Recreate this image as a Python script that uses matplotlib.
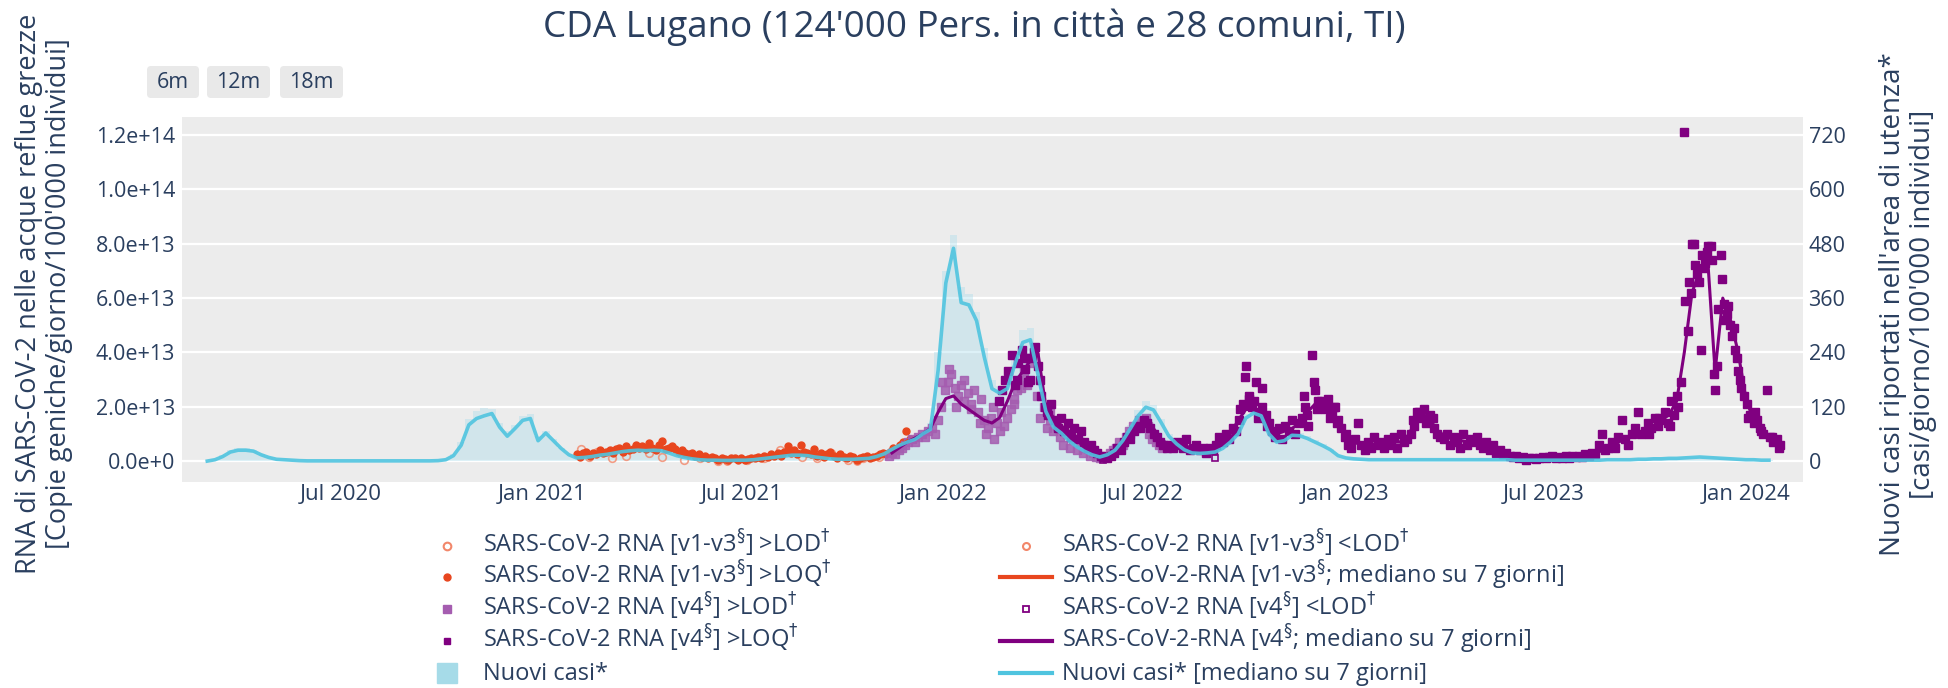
import matplotlib
matplotlib.use('Agg')
import matplotlib.pyplot as plt
from matplotlib.lines import Line2D
from matplotlib.patches import FancyBboxPatch
from matplotlib.transforms import IdentityTransform
import pandas as pd

# ---------------- data ----------------
title = "CDA Lugano (124'000 Pers. in città e 28 comuni, TI)"
left_label = "RNA di SARS-CoV-2 nelle acque reflue grezze\n[Copie geniche/giorno/100'000 individui]"
right_label = "Nuovi casi riportati nell'area di utenza*\n[casi/giorno/100'000 individui]"
buttons = ['6m', '12m', '18m']

xtick_dates = ['2020-07-01', '2021-01-01', '2021-07-01', '2022-01-01',
               '2022-07-01', '2023-01-01', '2023-07-01', '2024-01-01']
xtick_labels = ['Jul 2020', 'Jan 2021', 'Jul 2021', 'Jan 2022',
                'Jul 2022', 'Jan 2023', 'Jul 2023', 'Jan 2024']
ytick_left = [0, 2e13, 4e13, 6e13, 8e13, 1.0e14, 1.2e14]
ytick_left_labels = ['0.0e+0', '2.0e+13', '4.0e+13', '6.0e+13', '8.0e+13', '1.0e+14', '1.2e+14']
ytick_right = [0, 120, 240, 360, 480, 600, 720]

# weekly (Mondays from 2020-03-02): new cases per 100'000, 7-day median
cases_start = '2020-03-02'
cases_median = [
    # 2020
    0, 3, 10, 20, 24,  24, 22, 14, 8,  4, 3, 2, 1,  0.5, 0.5, 0.5, 0.5, 0.5,
    0.5, 0.5, 0.5, 0.5,  0.5, 0.5, 0.5, 0.5, 0.5,  0.5, 0.5, 0.5, 1,
    3, 12, 35, 80,  94, 100, 105, 75, 55,  72, 90, 94, 45,
    # 2021
    62, 45, 28, 14,  7, 8, 10, 13,  15, 18, 21, 23, 24,  23, 24, 23, 18,
    12, 8, 5, 3, 2,  2, 1.5, 1.5, 2,  2, 3, 5, 7,  9, 11, 13, 13, 12,
    9, 7, 5, 4,  4, 4, 5, 6,  10, 16, 26, 35, 42,  48, 60, 70, 200,
    # 2022
    393, 470, 350, 345, 310,  230, 160, 150, 160,  215, 262, 268, 190,
    110, 75, 62, 45,  32, 22, 14, 9, 14,  24, 45, 72, 100,  119, 113, 85, 55,
    38, 25, 18, 17, 18,  20, 28, 42, 60,  95, 106, 100, 60, 42,
    45, 57, 56, 50,  42, 34, 25, 12,
    # 2023
    7, 5, 4, 3, 3,  3, 3, 3, 3,  3, 3, 3, 3,  3, 3, 3, 3,  3, 3, 3, 3, 3,
    2, 2, 2, 2,  2, 2, 2, 2, 2,  2, 2, 2, 3,  3, 3, 3, 4,  4, 5, 5, 6, 6,
    7, 8, 9, 8,  7, 6, 5, 4,
    # 2024
    3, 3, 2, 2,
]
# weekly representation of the daily reported cases (bars)
cases_daily = [
    # 2020
    1, 5, 14, 24, 28,  28, 24, 16, 9,  5, 3, 2, 1,  1, 1, 1, 1, 1,
    1, 1, 1, 1,  1, 1, 1, 1, 1,  1, 1, 1, 2,
    5, 16, 42, 92,  110, 118, 115, 85, 66,  80, 100, 104, 56,
    # 2021
    66, 48, 30, 16,  9, 10, 12, 15,  18, 21, 24, 26, 26,  25, 26, 24, 20,
    14, 10, 6, 4, 3,  2, 2, 2, 3,  3, 4, 6, 8,  11, 13, 15, 15, 14,
    11, 8, 6, 5,  5, 5, 6, 8,  12, 19, 30, 40, 48,  55, 66, 85, 240,
    # 2022
    420, 500, 385, 370, 330,  250, 180, 165, 180,  240, 290, 295, 205,
    122, 83, 68, 50,  36, 25, 16, 11, 16,  27, 50, 80, 112,  132, 124, 92, 60,
    41, 28, 21, 20, 21,  23, 31, 46, 67,  105, 116, 108, 66, 47,
    50, 62, 61, 55,  47, 37, 27, 14,
    # 2023
    8, 6, 5, 4, 4,  4, 4, 4, 4,  4, 4, 4, 4,  4, 4, 4, 4,  4, 4, 4, 4, 4,
    3, 3, 3, 3,  3, 3, 3, 3, 3,  3, 3, 3, 4,  4, 4, 4, 5,  5, 6, 6, 7, 7,
    8, 9, 10, 9,  8, 7, 6, 5,
    # 2024
    4, 4, 3, 3,
]

# SARS-CoV-2 RNA, v1-v3 method, >LOQ (units of 1e13), every 3 days from 2021-02-01
rna_v13_start = '2021-02-01'
rna_v13_loq = [
    0.25, 0.15, 0.3, 0.35, 0.2, 0.3, 0.25, 0.4, 0.3, 0.35,
    0.4, 0.3, 0.45, 0.5, 0.35, 0.55, 0.4, 0.45, 0.6, 0.5,
    0.55, 0.45, 0.65, 0.5, 0.4, 0.6, 0.75, 0.45, 0.5, 0.55,
    0.45, 0.35, 0.4, 0.3, 0.25, 0.3, 0.2, 0.25, 0.15, 0.2,
    0.1, 0.15, 0.1, 0.05, 0.1, 0.08, 0.05, 0.1, 0.12, 0.05,
    0.1, 0.05, 0.08, 0.12, 0.1, 0.15, 0.1, 0.2, 0.15, 0.25, 0.2,
    0.3, 0.2, 0.35, 0.55, 0.3, 0.4, 0.25, 0.6, 0.35, 0.3,
    0.25, 0.45, 0.2, 0.3, 0.15, 0.25, 0.35, 0.2, 0.1, 0.25,
    0.15, 0.1, 0.2, 0.15, 0.05, 0.1, 0.15, 0.2, 0.1, 0.15,
    0.2, 0.25, 0.3, 0.25, 0.35, 0.5, 0.45, 0.6, 0.7, 1.1,
    0.8,
]
# v1-v3, 7-day median, weekly from 2021-02-01
rna_v13_med = [
    0.22, 0.25, 0.28, 0.3,  0.33, 0.38, 0.42, 0.45, 0.47,  0.5, 0.52, 0.5, 0.45,
    0.38, 0.3, 0.24, 0.18, 0.13,  0.1, 0.08, 0.08, 0.08,  0.1, 0.12, 0.15, 0.2,
    0.28, 0.35, 0.38, 0.35, 0.3,  0.27, 0.24, 0.2, 0.18,  0.15, 0.12, 0.12, 0.16,
    0.22, 0.3, 0.4, 0.55, 0.75,
]
rna_v13_lod_dates = ['2021-02-05', '2021-02-12', '2021-02-20', '2021-03-05', '2021-03-18',
                     '2021-04-08', '2021-04-20', '2021-05-10', '2021-05-24', '2021-06-10',
                     '2021-07-06', '2021-07-22', '2021-08-05', '2021-08-25', '2021-09-08',
                     '2021-09-21', '2021-10-06', '2021-10-20', '2021-11-03']
rna_v13_lod = [0.45, 0.15, 0.35, 0.1, 0.2, 0.3, 0.15, 0.05, 0.1, 0.02,
               0.05, 0.1, 0.4, 0.15, 0.1, 0.3, 0.05, 0.1, 0.15]
rna_v13_blod_dates = ['2021-06-18', '2021-10-14']
rna_v13_blod = [0.0, 0.0]

# v4 method, >LOD (light squares), every 3 days from 2021-11-12
rna_v4_lod_start = '2021-11-12'
rna_v4_lod = [
    0.2, 0.3, 0.25, 0.4, 0.5, 0.6, 0.7,
    0.8, 0.7, 0.9, 1.0, 0.9, 1.1, 1.2, 1.0, 1.5, 2.0,
    2.6, 2.9, 3.2, 2.7, 2.4, 2.8, 2.2, 2.5, 1.9, 2.6,
    1.8, 2.3, 1.5, 1.2, 1.6, 0.8, 1.4, 1.8, 1.3, 1.6,
    1.9, 2.3, 2.6, 3.0, 3.3, 2.8, 3.6, 4.0, 2.4, 1.6,
    2.0, 1.2, 1.5, 1.1, 1.3, 0.9, 0.6, 1.0, 0.5, 0.8,
    0.4, 0.7, 0.3, 0.5, 0.2, 0.3, 0.15, 0.1, 0.2, 0.15,
    0.3, 0.4, 0.5, 0.7, 0.6, 0.9, 1.1, 1.3, 1.2, 1.5,
    1.4, 1.6, 1.0, 0.8, 0.7, 0.6, 0.5,
]
rna_v4_lod_extra_dates = ['2021-12-31', '2022-01-06', '2022-01-12', '2022-01-20', '2022-01-26',
                          '2022-02-03', '2022-02-09', '2022-02-15', '2022-02-21', '2022-03-06',
                          '2022-03-12', '2022-03-18', '2022-04-08', '2022-06-20', '2022-07-06']
rna_v4_lod_extra = [2.9, 3.4, 2.0, 3.0, 2.1, 1.4, 1.0, 2.0, 1.1, 2.1,
                    2.7, 3.8, 1.8, 1.0, 1.3]
# v4 method, >LOQ (dark squares), every 3 days from 2022-02-20
rna_v4_loq_start = '2022-02-20'
rna_v4_loq = [
    2.2, 2.6, 3.0,
    3.3, 3.9, 2.8, 3.6, 4.1, 3.4, 2.9, 3.8, 4.2, 3.5, 2.4,
    2.0, 1.7, 2.1, 1.5, 1.2, 1.6, 1.1, 1.4, 0.9, 1.2,
    0.8, 1.1, 0.7, 0.5, 0.6, 0.4, 0.3, 0.2, 0.15, 0.1,
    0.2, 0.3, 0.5, 0.4, 0.7, 0.9, 0.8, 1.1, 1.3, 1.2,
    1.5, 1.4, 1.2, 1.0, 0.9, 0.7, 0.6, 0.5, 0.6, 0.5,
    0.7, 0.6, 0.5, 0.8, 0.4, 0.5, 0.6, 0.4, 0.5, 0.3, 0.5,
    0.4, 0.6, 0.9, 0.7, 1.0, 0.8, 1.2, 1.1, 1.5, 2.1,
    3.5, 2.3, 2.0, 2.9, 1.8, 2.7, 1.7, 1.4, 1.1, 0.9,
    1.2, 0.8, 1.3, 1.1, 1.5, 1.0, 1.4, 1.6, 2.0, 1.3,
    3.9, 2.6, 2.2, 2.0, 1.9, 2.3, 1.8, 2.0, 1.5, 1.2,
    0.9, 0.6, 0.5, 0.8, 1.4, 0.6, 0.4, 0.7, 0.5, 0.9, 0.6,
    0.7, 0.5, 0.8, 0.6, 0.9, 0.5, 1.0, 0.7, 0.8,
    1.0, 1.3, 1.8, 1.6, 1.9, 1.5, 1.7, 1.2, 1.0, 0.9,
    0.8, 1.0, 0.6, 0.9, 0.7, 0.5, 1.0, 0.6, 0.8, 0.7,
    0.9, 0.6, 0.5, 0.7, 0.4, 0.6, 0.3, 0.4, 0.25, 0.3, 0.2,
    0.15, 0.2, 0.1, 0.15, 0.05, 0.1, 0.12, 0.08, 0.1, 0.15,
    0.1, 0.15, 0.2, 0.1, 0.15, 0.12, 0.2, 0.1, 0.18, 0.15,
    0.2, 0.15, 0.25, 0.2, 0.3, 0.25, 0.6, 1.0, 0.4, 0.5,
    0.7, 0.5, 0.9, 1.5, 0.8, 0.6, 1.0, 1.2, 1.8, 1.0,
    1.1, 1.4, 1.2, 1.6, 1.3, 1.5, 1.8, 1.4, 2.2, 1.7, 2.0,
    2.9, 12.1, 4.8, 6.2, 8.0, 6.9, 4.1, 7.1, 7.7, 7.9,
    3.2, 3.5, 7.6, 5.8, 5.4, 5.0, 4.9, 3.8, 3.0, 2.4,
    2.1, 1.7, 1.4, 1.5, 1.2, 1.0, 2.6, 0.9, 0.7, 0.8, 0.6,
]
# additional >LOQ samples (denser sampling during waves)
rna_v4_loq_extra_dates = [
    '2022-03-09', '2022-03-15', '2022-03-21', '2022-03-24', '2022-03-30', '2022-04-05',
    '2022-09-28', '2022-10-02', '2022-10-06', '2022-10-10', '2022-10-14', '2022-10-18', '2022-10-22',
    '2022-11-25', '2022-11-28', '2022-12-04', '2022-12-07', '2022-12-10', '2022-12-16',
    '2022-12-19', '2022-12-22', '2022-12-25', '2023-01-02',
    '2023-03-04', '2023-03-10', '2023-03-16', '2023-03-22',
    '2023-10-05', '2023-10-14', '2023-10-24', '2023-10-30',
    '2023-11-07', '2023-11-10', '2023-11-13', '2023-11-16', '2023-11-19', '2023-11-22',
    '2023-11-25', '2023-11-28', '2023-12-01', '2023-12-04', '2023-12-07', '2023-12-10',
    '2023-12-13', '2023-12-16', '2023-12-19', '2023-12-22', '2023-12-25', '2023-12-28',
    '2024-01-03', '2024-01-09', '2024-01-15', '2024-01-25', '2024-01-31',
]
rna_v4_loq_extra = [
    3.0, 3.8, 3.0, 4.0, 3.0, 1.8,
    1.9, 3.1, 2.4, 2.2, 1.6, 2.0, 1.3,
    2.4, 1.7, 2.9, 1.9, 2.2, 2.1,
    1.6, 2.0, 1.4, 1.0,
    1.5, 1.8, 1.4, 1.6,
    1.0, 1.6, 1.3, 2.4,
    5.9, 6.6, 8.0, 7.2, 6.6, 7.6,
    7.3, 7.9, 7.4, 2.6, 5.6, 6.7,
    5.2, 5.7, 4.6, 4.1, 3.3, 2.7,
    1.6, 1.8, 1.1, 0.9, 0.5,
]
rna_v4_blod_dates = ['2022-05-26', '2022-09-05']
rna_v4_blod = [0.05, 0.1]
# v4, 7-day median, weekly from 2021-11-15
rna_v4_med_start = '2021-11-15'
rna_v4_med = [
    0.3, 0.5, 0.7,  0.85, 1.0, 1.2, 1.8,
    2.3, 2.4, 2.1, 1.9, 1.7,  1.5, 1.4, 1.6, 2.2,  2.9, 3.3, 3.7, 3.95,
    2.0, 1.6, 1.3, 1.1,  0.8, 0.5, 0.35, 0.2, 0.15,  0.35, 0.6, 0.9, 1.2,
    1.5, 1.2, 0.8, 0.6,  0.6, 0.55, 0.5, 0.45, 0.45,  0.6, 0.8, 1.0, 1.5,
    1.9, 1.9, 1.6, 1.1, 1.0,  1.1, 1.2, 1.4, 1.8,  2.1, 2.0, 1.9, 1.5,
    0.9, 0.7, 0.6, 0.6, 0.65,  0.65, 0.7, 0.7, 0.9,  1.4, 1.6, 1.5, 1.1,
    0.9, 0.8, 0.75, 0.7,  0.7, 0.6, 0.5, 0.35, 0.25,  0.15, 0.1, 0.1, 0.1,
    0.12, 0.15, 0.15, 0.15, 0.18,  0.2, 0.25, 0.35, 0.5,  0.6, 0.8, 0.9, 1.0,
    1.2, 1.3, 1.5, 1.7, 2.2,  4.0, 6.2, 7.0, 7.6,  3.3, 6.0, 5.2, 4.0,
    2.3, 1.5, 1.2, 0.9, 0.7,
]

legend_left = [
    'SARS-CoV-2 RNA [v1-v3$^{\\S}$] >LOD$^{\\dag}$',
    'SARS-CoV-2 RNA [v1-v3$^{\\S}$] >LOQ$^{\\dag}$',
    'SARS-CoV-2 RNA [v4$^{\\S}$] >LOD$^{\\dag}$',
    'SARS-CoV-2 RNA [v4$^{\\S}$] >LOQ$^{\\dag}$',
    'Nuovi casi*',
]
legend_right = [
    'SARS-CoV-2 RNA [v1-v3$^{\\S}$] <LOD$^{\\dag}$',
    'SARS-CoV-2-RNA [v1-v3$^{\\S}$; mediano su 7 giorni]',
    'SARS-CoV-2 RNA [v4$^{\\S}$] <LOD$^{\\dag}$',
    'SARS-CoV-2-RNA [v4$^{\\S}$; mediano su 7 giorni]',
    'Nuovi casi* [mediano su 7 giorni]',
]

# ---------------- style ----------------
W, H = 1949, 688
plt.rcParams['font.family'] = ['Open Sans', 'DejaVu Sans']
plt.rcParams['mathtext.fontset'] = 'dejavusans'
TXT = '#2a3f5f'
BG = '#ececec'
RED = '#e8461e'
RED_L = '#f2876a'
PUR = '#800080'
PUR_L = '#a55db0'
CYAN = '#4fc4df'
BAR = '#9fd8ea'
E13 = 1e13
CMAX, CMIN = 760.0, -46.2
RATIO = 1.2e14 / 720

fig = plt.figure(figsize=(W / 100, H / 100), dpi=100)
L, R, T, B = 182, 1803, 117, 482
rect = [L / W, 1 - B / H, (R - L) / W, (B - T) / H]
ax0 = fig.add_axes(rect)
ax1 = fig.add_axes(rect, sharex=ax0)
ax2 = fig.add_axes(rect, sharex=ax0)
ax0.set_zorder(0); ax1.set_zorder(1); ax2.set_zorder(2)
ax0.set_facecolor(BG)
ax1.patch.set_visible(False)
ax2.patch.set_visible(False)
for a in (ax0, ax1, ax2):
    for s in a.spines.values():
        s.set_visible(False)

# dates
wk_dates = pd.date_range(cases_start, periods=len(cases_median), freq='7D')
bar_dates = pd.date_range(cases_start, periods=len(cases_daily), freq='7D')
v13_dates = pd.date_range(rna_v13_start, periods=len(rna_v13_loq), freq='3D')
v13_med_dates = pd.date_range(rna_v13_start, periods=len(rna_v13_med), freq='7D')
v4l_dates = pd.date_range(rna_v4_lod_start, periods=len(rna_v4_lod), freq='3D')
v4q_dates = pd.date_range(rna_v4_loq_start, periods=len(rna_v4_loq), freq='3D')
v4m_dates = pd.date_range(rna_v4_med_start, periods=len(rna_v4_med), freq='7D')

# bars (cases) at the bottom
ax0.bar(bar_dates, cases_daily, width=7, color=BAR, alpha=0.35, linewidth=0, zorder=2)
ax0.set_ylim(CMIN, CMAX)
ax0.set_yticks(ytick_right)
ax0.grid(axis='y', color='white', linewidth=1.6)
ax0.set_axisbelow(True)
ax0.tick_params(axis='y', left=False, labelleft=False)

# RNA
def sc(v):
    return [x * E13 for x in v]

ax1.plot(pd.to_datetime(rna_v13_lod_dates), sc(rna_v13_lod), 'o', ms=5.5, mfc='none',
         mec=RED_L, mew=1.2, alpha=0.8, zorder=2)
ax1.plot(pd.to_datetime(rna_v13_blod_dates), sc(rna_v13_blod), 'o', ms=5, mfc='none',
         mec=RED_L, mew=1.2, zorder=2)
ax1.plot(v13_dates, sc(rna_v13_loq), 'o', ms=5, color=RED, mec=RED, zorder=3)
ax1.plot(v13_med_dates, sc(rna_v13_med), '-', color=RED, lw=2.2, zorder=4)
ax1.plot(v4l_dates, sc(rna_v4_lod), 's', ms=5.5, color=PUR_L, mec=PUR_L, alpha=0.85, zorder=3)
ax1.plot(pd.to_datetime(rna_v4_lod_extra_dates), sc(rna_v4_lod_extra), 's', ms=5.5,
         color=PUR_L, mec=PUR_L, alpha=0.85, zorder=3)
ax1.plot(pd.to_datetime(rna_v4_blod_dates), sc(rna_v4_blod), 's', ms=5, mfc='none',
         mec=PUR, mew=1.2, zorder=3)
ax1.plot(v4q_dates, sc(rna_v4_loq), 's', ms=5.5, color=PUR, mec=PUR, zorder=4)
ax1.plot(pd.to_datetime(rna_v4_loq_extra_dates), sc(rna_v4_loq_extra), 's', ms=5.5,
         color=PUR, mec=PUR, zorder=4)
ax1.plot(v4m_dates, sc(rna_v4_med), '-', color=PUR, lw=2.2, zorder=5)
ax1.set_ylim(CMIN * RATIO, CMAX * RATIO)
ax1.set_yticks(ytick_left)
ax1.set_yticklabels(ytick_left_labels)
ax1.tick_params(axis='y', length=0, pad=5, labelsize=15.5, labelcolor=TXT)

# cases median on top
ax2.plot(wk_dates, cases_median, '-', color=CYAN, lw=2.6, alpha=0.9, zorder=3)
ax2.set_ylim(CMIN, CMAX)
ax2.yaxis.tick_right()
ax2.set_yticks(ytick_right)
ax2.set_yticklabels([str(v) for v in ytick_right])
ax2.tick_params(axis='y', length=0, pad=4, labelsize=15.5, labelcolor=TXT)

ax0.set_xlim(pd.Timestamp('2020-02-08'), pd.Timestamp('2024-02-22'))
ax0.set_xticks(pd.to_datetime(xtick_dates))
ax0.set_xticklabels(xtick_labels)
ax0.tick_params(axis='x', length=0, pad=1.5, labelsize=16, labelcolor=TXT)
for a in (ax1, ax2):
    a.tick_params(axis='x', bottom=False, labelbottom=False)

# titles
fig.text(0.5, 1 - 27 / H, title, ha='center', va='center', fontsize=26.5, color=TXT)
fig.text(44 / W, 1 - 294 / H, left_label, rotation=90, ha='center', va='center',
         fontsize=19.5, color=TXT, multialignment='center', linespacing=1.05)
fig.text(1908 / W, 1 - 304 / H, right_label, rotation=90, ha='center', va='center',
         fontsize=20, color=TXT, multialignment='center', linespacing=1.05)

# range buttons
ident = IdentityTransform()
btn_x = [(147, 199), (207, 270), (280, 343)]
for (x0, x1), lab in zip(btn_x, buttons):
    fig.add_artist(FancyBboxPatch((x0, H - 98), x1 - x0, 32,
                                  boxstyle='round,pad=0,rounding_size=4',
                                  transform=ident, fc='#e9e9e9', ec='none'))
    fig.text((x0 + x1) / 2 / W, 1 - 82 / H, lab, ha='center', va='center',
             fontsize=15.5, color=TXT)

# manual legend (two columns, five rows)
rows_y = [546, 577, 609, 641, 673]
left_handles = [
    dict(marker='o', ms=5.5, mfc='none', mec=RED_L, mew=1.5, ls='none'),
    dict(marker='o', ms=5, color=RED, ls='none'),
    dict(marker='s', ms=6, color=PUR_L, ls='none'),
    dict(marker='s', ms=5, color=PUR, ls='none'),
    dict(marker='s', ms=15, color='#a6dbe8', ls='none'),
]
right_handles = [
    dict(marker='o', ms=5, mfc='none', mec=RED_L, mew=1.5, ls='none'),
    dict(color=RED, lw=3),
    dict(marker='s', ms=5, mfc='none', mec=PUR, mew=1.3, ls='none'),
    dict(color=PUR, lw=3),
    dict(color=CYAN, lw=3),
]
for y, kw, lab in zip(rows_y, left_handles, legend_left):
    fig.add_artist(Line2D([447 / W], [1 - y / H], transform=fig.transFigure, **kw))
    fig.text(483 / W, 1 - (y + 7) / H, lab, ha='left', va='baseline', fontsize=17, color=TXT)
for y, kw, lab in zip(rows_y, right_handles, legend_right):
    if kw.get('ls') == 'none':
        fig.add_artist(Line2D([1026 / W], [1 - y / H], transform=fig.transFigure, **kw))
    else:
        fig.add_artist(Line2D([1000 / W, 1052 / W], [1 - y / H, 1 - y / H],
                              transform=fig.transFigure, **kw))
    fig.text(1062 / W, 1 - (y + 7) / H, lab, ha='left', va='baseline', fontsize=17, color=TXT)

fig.savefig('out.png', dpi=100)
